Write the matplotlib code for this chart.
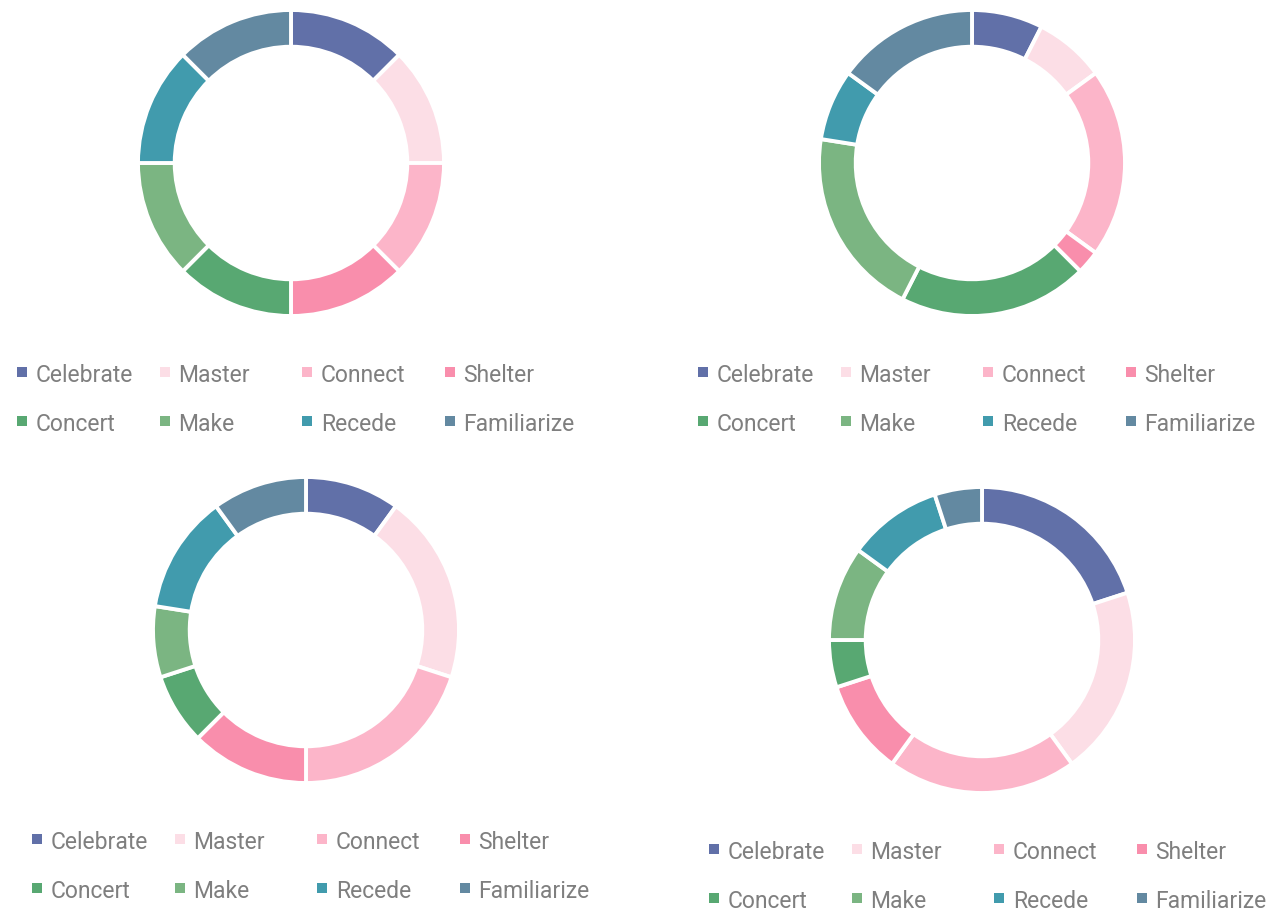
import matplotlib
matplotlib.use("Agg")
import matplotlib.pyplot as plt

# category names and slice colours shared by all four rings
categories = ["Celebrate", "Master", "Connect", "Shelter",
              "Concert", "Make", "Recede", "Familiarize"]
colors = ["#6170A8", "#FCDEE6", "#FCB5C9", "#F98EAC",
          "#58A872", "#7BB582", "#419BAD", "#6389A1"]

# share of each category (percent), one list per ring
ring_a = [12.5, 12.5, 12.5, 12.5, 12.5, 12.5, 12.5, 12.5]
ring_b = [7.5, 7.5, 20, 2.5, 20, 20, 7.5, 15]
ring_c = [10, 20, 20, 12.5, 7.5, 7.5, 12.5, 10]
ring_d = [20, 20, 20, 10, 5, 10, 10, 5]

W, H = 1271, 909
DPI = 100

# layout in pixels: ring centre, legend origin (first marker)
panels = [
    (ring_a, (291, 163), (22, 372)),
    (ring_b, (972, 163), (703, 372)),
    (ring_c, (306, 630), (37, 839)),
    (ring_d, (982, 640), (714, 849)),
]
R = 153
RING_W = 0.24
COL_STEP = 142.5
ROW_STEP = 49

fig = plt.figure(figsize=(W / DPI, H / DPI), dpi=DPI)
fig.patch.set_facecolor("white")

for values, (cx, cy), _ in panels:
    ax = fig.add_axes([(cx - R) / W, 1 - (cy + R) / H, 2 * R / W, 2 * R / H])
    ax.pie(values, colors=colors, startangle=90, counterclock=False, radius=1,
           wedgeprops=dict(width=RING_W, edgecolor="white", linewidth=2.8))
    ax.set_xlim(-1, 1)
    ax.set_ylim(-1, 1)
    ax.set_aspect("equal")
    ax.axis("off")

# overlay in pixel coordinates for the legends
lg = fig.add_axes([0, 0, 1, 1])
lg.set_xlim(0, W)
lg.set_ylim(H, 0)
lg.axis("off")

for _, _, (lx, ly) in panels:
    for i, (name, col) in enumerate(zip(categories, colors)):
        x = lx + (i % 4) * COL_STEP
        y = ly + (i // 4) * ROW_STEP
        lg.scatter([x], [y], marker="s", s=44, color=col, linewidths=0)
        lg.text(x + 14, y + 1, name, fontsize=16.5, color="#7F7F7F",
                family="Roboto", va="center_baseline", ha="left")

fig.savefig("out.png", dpi=DPI, facecolor="white")
